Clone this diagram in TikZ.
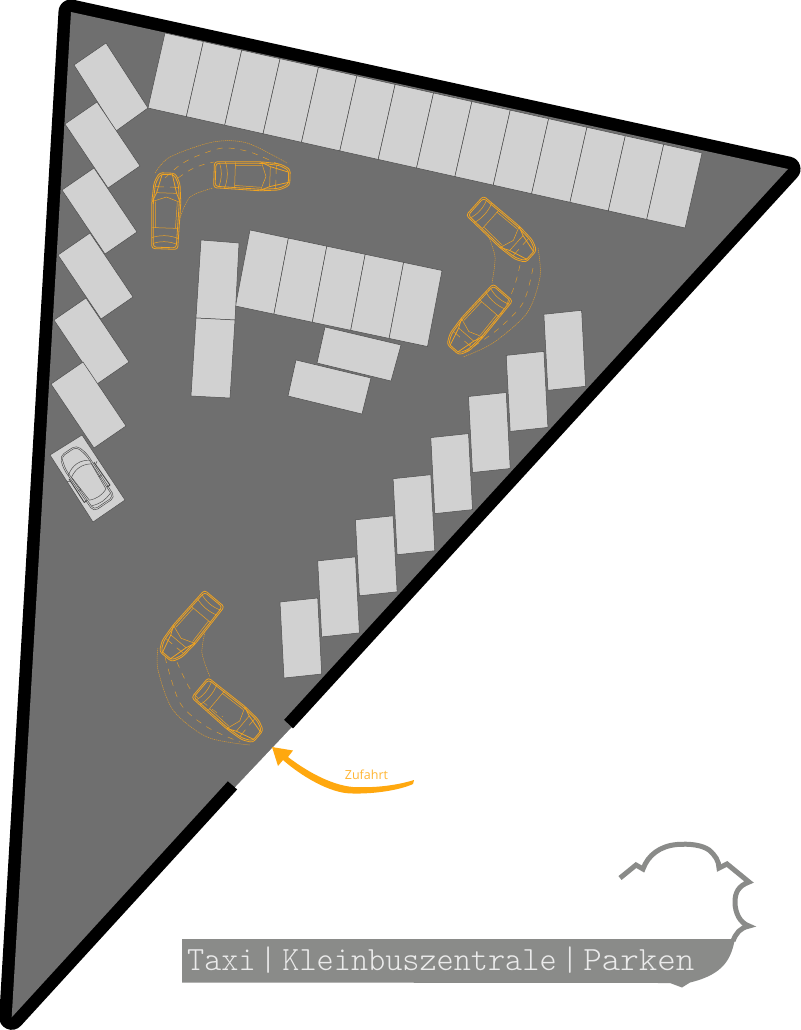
\documentclass[tikz,border=0pt]{standalone}
\usepackage{fontspec}
\newfontfamily\labelfont{Open Sans}
\definecolor{ground}{HTML}{6F6F6F}
\definecolor{stallfill}{HTML}{D1D1D1}
\definecolor{carline}{HTML}{EFA322}
\definecolor{arrowor}{HTML}{FFA80F}
\definecolor{logogray}{HTML}{8A8B89}
\tikzset{
  stallbox/.style={fill=stallfill,draw=black!70,line width=.5pt},
  carstroke/.style={draw=carline,line width=.8pt,line join=round},
  carthin/.style={draw=carline,line width=.5pt,line join=round},
  sweepdot/.style={draw=carline,line width=.5pt,dash pattern=on 1.2pt off .8pt,opacity=.85},
  sweepdash/.style={draw=carline,line width=.5pt,dash pattern=on 6pt off 6pt,opacity=.85},
  parkline/.style={draw=black!72,line width=.45pt,line join=round},
  taxicar/.pic={
    \draw[carstroke,rounded corners=3pt] (-38,-13) -- (9,-14.5) -- (28,-13) -- (38,-8) -- (38,8) -- (28,13) -- (9,14.5) -- (-38,13) -- cycle;
    \draw[carstroke,rounded corners=3pt] (-36.5,-11.5) -- (9,-13) -- (27,-11.5) -- (36.5,-7) -- (36.5,7) -- (27,11.5) -- (9,13) -- (-36.5,11.5) -- cycle;
    \draw[carstroke] (9,-14) -- (18,-10) -- (37,-5);
    \draw[carstroke] (9,14) -- (18,10) -- (37,5);
    \draw[carthin] (18,-10) -- (18,10) (9,-14) -- (14,0) -- (9,14) (24,-12) -- (24,-3) (24,12) -- (24,3);
    \draw[carthin] (-17,-13) -- (-17,13) (-17,-10) -- (9,-11) (-17,10) -- (9,11);
    \draw[carthin] (-27,-13) .. controls (-24,-5) and (-24,5) .. (-27,13);
    \draw[carthin] (-33,-12) .. controls (-30,-5) and (-30,5) .. (-33,12);
  },
  parkedcar/.pic={
    \draw[parkline,rounded corners=5pt] (-32,-13) -- (20,-14) -- (33,-10) -- (33,10) -- (20,14) -- (-32,13) -- cycle;
    \draw[parkline,rounded corners=4pt] (-30.5,-11.5) -- (19,-12.5) -- (31.5,-9) -- (31.5,9) -- (19,12.5) -- (-30.5,11.5) -- cycle;
    \draw[parkline] (12,-14) .. controls (19,-5) and (19,5) .. (12,14);
    \draw[parkline] (9,-12) .. controls (14,-4) and (14,4) .. (9,12);
    \draw[parkline] (9,-12) -- (-20,-10) (9,12) -- (-20,10);
    \draw[parkline] (-20,-10) .. controls (-23,-3) and (-23,3) .. (-20,10);
    \draw[parkline] (-26,-11) .. controls (-29,-3) and (-29,3) .. (-26,11);
    \draw[parkline,line width=.9pt] (9,-15) -- (-19,-15.5) -- (-19,-12) (9,15) -- (-19,15.5) -- (-19,12);
    \draw[parkline] (6,-15) -- (8,-18) (6,15) -- (8,18) (-6,-15) -- (-6,-11) (-6,15) -- (-6,11);
  }
}
\begin{document}
\begin{tikzpicture}[x=1pt,y=-1pt]
\useasboundingbox (0,0) rectangle (800,1030);
% walls and ground
\draw[black,fill=black,line width=25pt,line join=round] (71,12) -- (788,169) -- (11.7,1017.3) -- cycle;
\fill[ground] (71,12) -- (788,169) -- (11.7,1017.3) -- cycle;
% gate
\fill[ground] (280,716) -- (291.7,727.3) -- (235,787.3) -- (223,777) -- cycle;
\fill[white] (291.7,727.3) -- (235,787.3) -- (241,793) -- (298,733) -- cycle;
% top row
\foreach \i in {0,...,13} {
  \path[stallbox] ({165+38.36*\i},{33+8.57*\i}) -- ++(38.36,8.57) -- ++(-17,75) -- ++(-38.36,-8.57) -- cycle;
}
% middle block
\foreach \i in {0,...,4} {
  \path[stallbox] ({250+38.4*\i},{230+8.1*\i}) -- ++(38.4,8.1) -- ++(-14.5,76) -- ++(-38.4,-8.1) -- cycle;
}
\path[stallbox] (201,240) -- (239,243) -- (235,320) -- (196,318) -- cycle;
\path[stallbox] (196,318) -- (235,320) -- (230,398) -- (191,396) -- cycle;
\path[stallbox] (325,327) -- (401,345) -- (391,381) -- (317,363) -- cycle;
\path[stallbox] (296,360) -- (371,378) -- (362,414) -- (288,396) -- cycle;
% left column
\path[stallbox] (74,65) -- (106,43) -- (148,108) -- (116,131) -- cycle;
\foreach \x/\y in {65/124,62/190,58/255,54/320,51/384} {
  \path[stallbox] (\x,\y) -- ++(32,-22) -- ++(43,64) -- ++(-32,22) -- cycle;
}
\path[stallbox] (50,455) -- (82,435) -- (125,500) -- (93,522) -- cycle;
% lower staggered row
\foreach \i in {0,...,7} {
  \path[stallbox] ({280+37.7*\i},{602-41.1*\i}) -- ++(37.7,-4) -- ++(4,76) -- ++(-37.7,4) -- cycle;
}
% parked car
\pic[rotate=124] at (86.5,478) {parkedcar};
% swept paths top-left
\draw[sweepdot] plot[smooth] coordinates {(155,173) (170,157) (213,142) (247,143) (287,163)};
\draw[sweepdot] plot[smooth] coordinates {(180,218) (190,197) (213,188)};
\draw[sweepdash] plot[smooth] coordinates {(165,178) (180,165) (197,156) (223,148) (250,152) (280,165)};
\draw[sweepdash] plot[smooth] coordinates {(178,178) (190,170) (202,165) (214,162)};
\pic[rotate=88] at (166,211) {taxicar};
\pic[rotate=-2] at (252,176) {taxicar};
% swept paths top-right
\draw[sweepdot] plot[smooth] coordinates {(538,248) (540,277) (527,313) (493,343) (463,357)};
\draw[sweepdot] plot[smooth] coordinates {(488,235) (495,257) (492,283)};
\draw[sweepdash] plot[smooth] coordinates {(520,265) (513,290) (497,320) (470,345)};
\draw[sweepdash] plot[smooth] coordinates {(533,268) (523,303) (497,330) (465,352)};
\pic[rotate=-42] at (503,231) {taxicar};
\pic[rotate=229] at (478,321) {taxicar};
% swept paths bottom
\draw[sweepdot] plot[smooth] coordinates {(158,648) (158,670) (173,710) (207,737) (250,745)};
\draw[sweepdot] plot[smooth] coordinates {(205,632) (202,653) (210,677)};
\draw[sweepdash] plot[smooth] coordinates {(165,657) (180,703) (207,727) (240,742)};
\draw[sweepdash] plot[smooth] coordinates {(177,662) (193,693) (223,717)};
\pic[rotate=230] at (190,627.5) {taxicar};
\pic[rotate=-40] at (229,712) {taxicar};
% entry arrow
\fill[arrowor] (414,780) .. controls (395,786) and (372,788) .. (353,787) .. controls (330,785) and (305,770) .. (288,757) -- (293,750.5) -- (272,747) -- (278,766) -- (283,760) .. controls (300,775) and (330,794) .. (353,793.5) .. controls (375,794) and (400,790) .. (413,784) -- cycle;
\node[text=arrowor!85!white,font=\labelfont\fontsize{12.5}{14}\selectfont,inner sep=0pt] (zufahrt) at (366.5,775) {Zufahrt};
% logo
\draw[logogray,line width=5pt,line join=miter] (620,878) -- (636,865) -- (643,869) .. controls (648,855) and (660,846) .. (677,844.5) .. controls (690,843.5) and (702,845) .. (709,850) .. controls (715,855) and (719,861) .. (719,868) -- (727,864) -- (749,882) .. controls (738,886) and (735,893) .. (735,902) .. controls (735,913) and (740,923) .. (749,926) .. controls (740,928) and (736,933) .. (733,941);
\fill[logogray] (182,939) -- (735,939) .. controls (731,958) and (725,974) .. (690,982.5) -- (682,987.5) -- (670,983) -- (182,982.5) -- cycle;
\node[text=white!92!black,font={\fontfamily{lmtt}\fontseries{l}\selectfont\fontsize{34}{36}\selectfont},inner sep=0pt,anchor=base west,xscale=.96] (logotext) at (187,970) {Taxi\hspace{4pt}|\hspace{6pt}Kleinbuszentrale\hspace{5pt}|\hspace{5pt}\scalebox{1.08}[1]{Parken}};
\end{tikzpicture}
\end{document}
